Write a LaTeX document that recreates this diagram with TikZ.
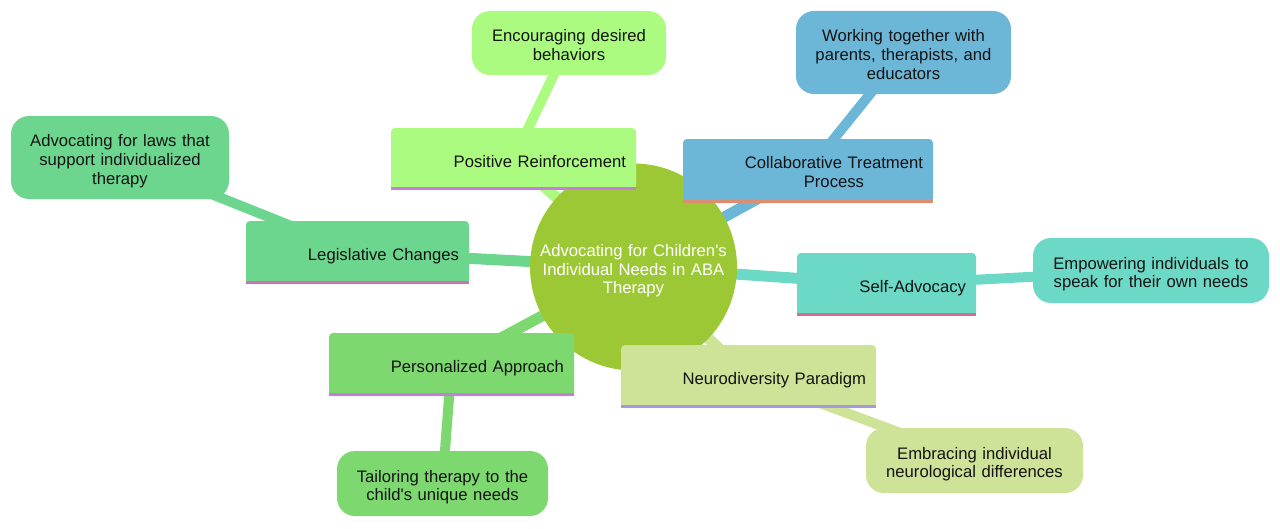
\documentclass[tikz,border=0pt]{standalone}
\usepackage{fontspec}
\setmainfont{Liberation Sans}
\usetikzlibrary{backgrounds}
\definecolor{mmroot}{RGB}{157,200,53}
\definecolor{mmlime}{RGB}{171,251,128}
\definecolor{mmblue}{RGB}{108,182,216}
\definecolor{mmjade}{RGB}{108,214,143}
\definecolor{mmteal}{RGB}{108,217,199}
\definecolor{mmgreen}{RGB}{126,216,112}
\definecolor{mmpale}{RGB}{206,226,152}
\definecolor{mmpurple}{RGB}{199,124,222}
\definecolor{mmsalmon}{RGB}{222,142,112}
\definecolor{mmorchid}{RGB}{209,112,178}
\definecolor{mmrose}{RGB}{209,112,138}
\definecolor{mmlavender}{RGB}{168,152,226}
\definecolor{mmtext}{RGB}{20,20,20}

\begin{document}
\begin{tikzpicture}[
  x=0.75pt,y=-0.75pt,
  every node/.style={font=\fontsize{12.5}{14}\selectfont,text=mmtext,
    execute at begin node={\rule{0pt}{15pt}},
    execute at end node={\rule[-3pt]{0pt}{3pt}}},
  root/.style={circle,fill=mmroot,minimum size=155.25pt,inner sep=0pt,text width=142pt,align=center,text=white},
  section/.style={rectangle,rounded corners=3pt,inner xsep=7.5pt,inner ysep=0pt,align=right},
  leaf/.style={rectangle,rounded corners=13.5pt,inner sep=0pt,align=center},
  trunk/.style={line width=8.25pt},
  twig/.style={line width=7.5pt},
  stripe/.style={line width=2.25pt}
]
\useasboundingbox (0,0) rectangle (1280,528);

% center
\node[root] (aba) at (633.5,267) {Advocating for Children\textquotesingle s\\Individual Needs in ABA\\Therapy};

% main branches
\node[section,fill=mmlime,minimum width=183.75pt,minimum height=46.5pt,text width=168.75pt] (posrf) at (513.5,159) {Positive Reinforcement};
\node[section,fill=mmblue,minimum width=187.5pt,minimum height=48pt,text width=172.5pt] (collab) at (808,171) {\begin{tabular}[t]{@{}c@{}}Collaborative Treatment\\Process\end{tabular}};
\node[section,fill=mmjade,minimum width=167.25pt,minimum height=47.25pt,text width=152.25pt] (legis) at (357.5,252.5) {Legislative Changes};
\node[section,fill=mmteal,minimum width=134.25pt,minimum height=47.25pt,text width=119.25pt] (selfadv) at (886.5,284.5) {Self-Advocacy};
\node[section,fill=mmgreen,minimum width=183.75pt,minimum height=47.25pt,text width=168.75pt] (persn) at (451.5,364.5) {Personalized Approach};
\node[section,fill=mmpale,minimum width=191.25pt,minimum height=47.25pt,text width=176.25pt] (neuro) at (748.5,376.5) {Neurodiversity Paradigm};

% leaves
\node[leaf,fill=mmlime,minimum width=145.5pt,minimum height=48pt,text width=135pt] (encour) at (569,43) {Encouraging desired\\behaviors};
\node[leaf,fill=mmblue,minimum width=161.25pt,minimum height=62.25pt,text width=150pt] (worktog) at (903.5,52.5) {Working together with\\parents, therapists, and\\educators};
\node[leaf,fill=mmjade,minimum width=163.5pt,minimum height=62.25pt,text width=150pt] (lawsup) at (120,157.5) {Advocating for laws that\\support individualized\\therapy};
\node[leaf,fill=mmteal,minimum width=177pt,minimum height=48.75pt,text width=165pt] (empower) at (1151,270.5) {Empowering individuals to\\speak for their own needs};
\node[leaf,fill=mmgreen,minimum width=158.25pt,minimum height=48.75pt,text width=146pt] (tailor) at (442.5,483.5) {Tailoring therapy to the\\child\textquotesingle s unique needs};
\node[leaf,fill=mmpale,minimum width=162.75pt,minimum height=48.75pt,text width=150pt] (embrace) at (974.5,460.5) {Embracing individual\\neurological differences};

% bottom lines of the branches
\foreach \n/\c in {posrf/mmpurple,collab/mmsalmon,legis/mmorchid,selfadv/mmrose,persn/mmpurple,neuro/mmlavender}
  \draw[stripe,draw=\c] ([yshift=1.1pt]\n.south west) -- ([yshift=1.1pt]\n.south east);

% connectors
\begin{scope}[on background layer]
\draw[trunk,mmlime] (aba.center) -- (posrf.center);
\draw[trunk,mmblue] (aba.center) -- (collab.center);
\draw[trunk,mmjade] (aba.center) -- (legis.center);
\draw[trunk,mmteal] (aba.center) -- (selfadv.center);
\draw[trunk,mmgreen] (aba.center) -- (persn.center);
\draw[trunk,mmpale] (aba.center) -- (neuro.center);
\draw[twig,mmlime] (posrf.center) -- (encour.center);
\draw[twig,mmblue] (collab.center) -- (worktog.center);
\draw[twig,mmjade] (legis.center) -- (lawsup.center);
\draw[twig,mmteal] (selfadv.center) -- (empower.center);
\draw[twig,mmgreen] (persn.center) -- (tailor.center);
\draw[twig,mmpale] (neuro.center) -- (embrace.center);
\end{scope}
\end{tikzpicture}
\end{document}
